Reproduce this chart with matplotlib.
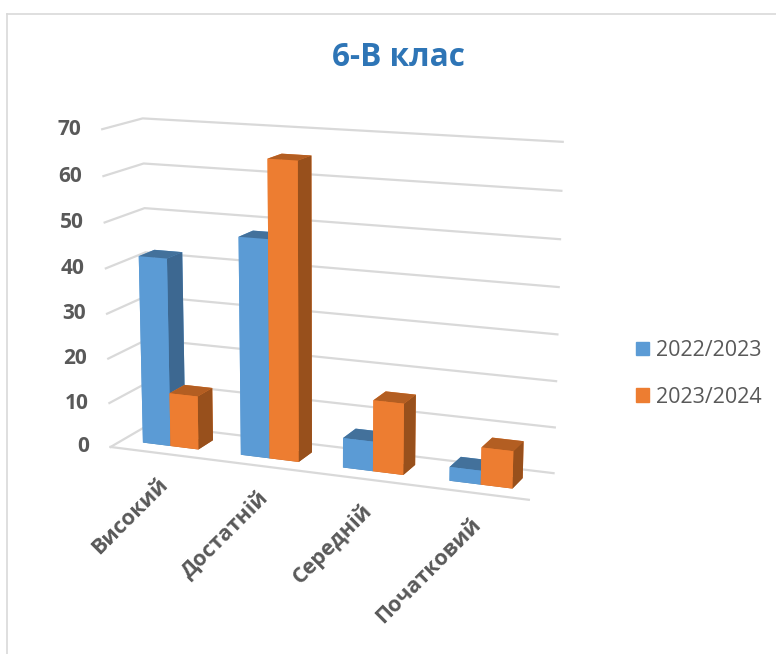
import matplotlib
matplotlib.use("Agg")
import matplotlib.pyplot as plt
import numpy as np
from matplotlib.lines import Line2D
from matplotlib.patches import Patch
from mpl_toolkits.mplot3d import proj3d

plt.rcParams["font.family"] = ["Open Sans", "DejaVu Sans"]

categories = ["Високий", "Достатній", "Середній", "Початковий"]
series_names = ["2022/2023", "2023/2024"]
values_2022 = [42, 48, 6.5, 3]
values_2023 = [12, 65, 15.5, 8]
z_ticks = [0, 10, 20, 30, 40, 50, 60, 70]

BLUE = ["#4a7eac", "#43719b", "#5b9bd5", "#5b9bd5", "#5b9bd5", "#3d6891"]
ORANGE = ["#b35e22", "#b35e22", "#ed7d31", "#ed7d31", "#ed7d31", "#98501c"]
GRID = "#d9d9d9"
TEXT = "#595959"
BAR_W = 0.286
DEPTH = 0.714

W, H = 776, 654
fig = plt.figure(figsize=(W / 100, H / 100), dpi=100)
side = 760
ax = fig.add_axes([(317 - side / 2) / W, (H - 311 - side / 2) / H, side / W, side / H],
                  projection="3d", computed_zorder=False)
ax.set_proj_type("persp", focal_length=0.47)
ax.view_init(elev=13, azim=-68)
ax.set_xlim(0, 4)
ax.set_ylim(0, DEPTH)
ax.set_zlim(0, 70)
ax.set_box_aspect((4, 0.78, 2.95), zoom=0.725)
ax.set_axis_off()
ax.patch.set_alpha(0)
ax.apply_aspect()
proj = ax.get_proj()


def label(x, y, z, text, dx, dy, **kw):
    # text3d drops the rotation, so go through the projected position
    px, py, _ = proj3d.proj_transform(x, y, z, proj)
    ax.annotate(text, xy=(px, py), xycoords="data", xytext=(dx, dy), textcoords="offset pixels",
                fontweight="bold", color=TEXT, annotation_clip=False, zorder=50, **kw)


# walls
for z in z_ticks:
    ax.plot([0, 0, 4], [0, DEPTH, DEPTH], [z, z, z], color=GRID, lw=1.6, zorder=1)
    label(0, 0, z, str(z), -21, 0, ha="right", va="center", fontsize=15)
ax.plot([0, 4], [0, 0], [0, 0], color=GRID, lw=1.6, zorder=1)

# bars, back to front
y0 = (DEPTH - BAR_W) / 2
order = 2
for i, name in enumerate(categories):
    for j, (vals, cols) in enumerate(((values_2022, BLUE), (values_2023, ORANGE))):
        x0 = i + (1 - 2 * BAR_W) / 2 + j * BAR_W
        ax.bar3d(x0, y0, 0, BAR_W, BAR_W, vals[i], color=cols, shade=False,
                 linewidth=0, zorder=order)
        order += 1
    label(i + 0.5, 0, 0, name, -2, -21, ha="right", va="top", rotation=45,
          rotation_mode="anchor", fontsize=15.5)

fig.text(398 / W, 1 - 58 / H, "6-В клас", ha="center", va="center", fontsize=22.7,
         fontweight="bold", color="#2e75b6")

handles = [Patch(color="#5b9bd5", label=series_names[0]),
           Patch(color="#ed7d31", label=series_names[1])]
fig.legend(handles=handles, loc="center left", bbox_to_anchor=(636 / W, 1 - 374 / H),
           frameon=False, fontsize=15.5, labelcolor=TEXT, handlelength=0.6, handleheight=0.6,
           handletextpad=0.33, labelspacing=1.2, borderpad=0, borderaxespad=0)

# chart frame, cropped at the picture edge
fig.add_artist(Line2D([7 / W, 1], [1 - 14 / H, 1 - 14 / H], color=GRID, lw=1.2))
fig.add_artist(Line2D([7 / W, 7 / W], [0, 1 - 14 / H], color=GRID, lw=1.2))

fig.savefig("out.png", dpi=100)
